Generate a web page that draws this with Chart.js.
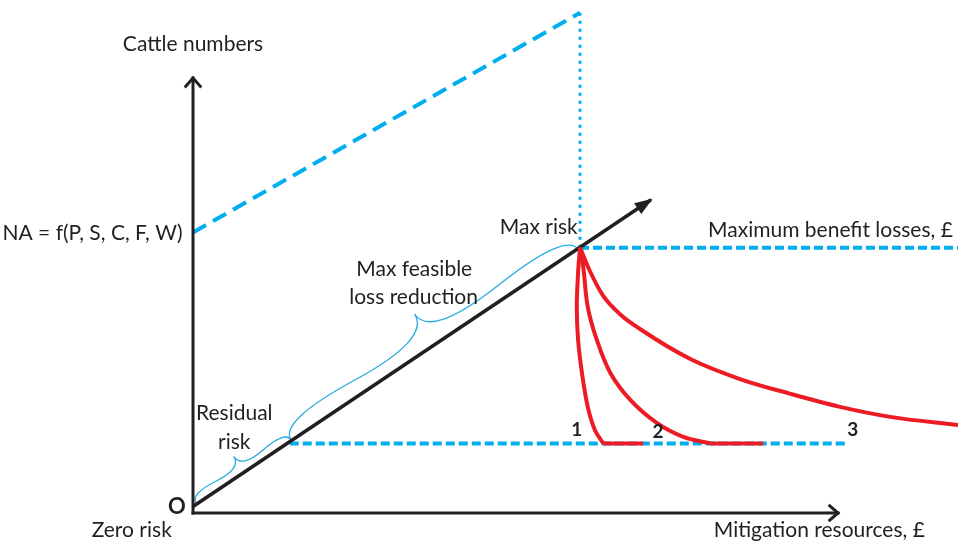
<!DOCTYPE html>
<html><head><meta charset="utf-8">
<script src="https://cdn.jsdelivr.net/npm/chart.js@4/dist/chart.umd.min.js"></script>
<style>html,body{margin:0;padding:0;background:#fff;} #wrap{width:958px;height:542px;position:relative;}</style>
</head><body><div id="wrap"><canvas id="c"></canvas></div>
<script>
// ---- data (diagram units: origin O = (0,0)) ----
const xAxisX = [0, 10], xAxisY = [0, 0];
const yAxisX = [0, 0], yAxisY = [0, 10];
const riskLineX = [0, 7.1], riskLineY = [0.15, 7.2];
const cattleLineX = [0, 6], cattleLineY = [6.45, 11.5];
const maxRiskPoint = [6, 6.1];
const residualPoint = [1.5, 1.6];
const maxBenefitEndX = 11.9;
const residualEndX = 10.16;
const curve1X = [6.0, 5.97, 5.95, 5.97, 6.03, 6.12, 6.23, 6.36];
const curve1Y = [6.1, 5.52, 4.74, 3.98, 3.22, 2.44, 1.91, 1.6];
const curve1FlatEndX = 6.98;
const curve2X = [6.0, 6.05, 6.12, 6.26, 6.47, 6.78, 7.19, 7.60, 8.02];
const curve2Y = [6.1, 5.66, 4.74, 3.98, 3.22, 2.60, 2.07, 1.75, 1.6];
const curve2FlatEndX = 8.84;
const curve3X = [6.0, 6.16, 6.36, 6.62, 6.93, 7.71, 8.48, 9.26, 10.03, 10.81, 11.86];
const curve3Y = [6.1, 5.54, 4.99, 4.57, 4.23, 3.54, 3.08, 2.74, 2.44, 2.21, 2.02];
const braceResidual = [[0.05, 0.23], [1.52, 1.68]];
const braceFeasible = [[1.52, 1.68], [5.98, 6.05]];
const annotations = [
  {text: 'Cattle numbers', x: 0, y: 10.78, align: 'center'},
  {text: 'NA = f(P, S, C, F, W)', x: -1.558, y: 6.44, align: 'center'},
  {text: 'Max feasible', x: 3.43, y: 5.61, align: 'center'},
  {text: 'loss reduction', x: 3.42, y: 4.97, align: 'center'},
  {text: 'Residual', x: 0.64, y: 2.30, align: 'center'},
  {text: 'risk', x: 0.64, y: 1.63, align: 'center'},
  {text: 'Max risk', x: 5.36, y: 6.57, align: 'center'},
  {text: 'Maximum benefit losses, \u00a3', x: 11.78, y: 6.51, align: 'right'},
  {text: '1', x: 5.95, y: 1.91, align: 'center', bold: true},
  {text: '2', x: 7.21, y: 1.86, align: 'center', bold: true},
  {text: '3', x: 10.23, y: 1.91, align: 'center', bold: true},
  {text: 'O', x: -0.25, y: 0.14, align: 'center', bold: true, big: true},
  {text: 'Zero risk', x: -0.95, y: -0.39, align: 'center'},
  {text: 'Mitigation resources, \u00a3', x: 9.71, y: -0.39, align: 'center'}
];

// ---- helpers ----
const pts = (xs, ys) => xs.map((x, i) => ({x, y: ys[i]}));
const BLACK = '#231f20', BLUE = '#00aeef', RED = '#ed1c24', BRACE = '#29abe2';
const FONT = 'Lato, "Open Sans", sans-serif';

const base = {showLine: true, pointRadius: 0, fill: false, clip: false, tension: 0};
const datasets = [
  {...base, data: pts(curve1X, curve1Y), borderColor: RED, borderWidth: 4, tension: 0.35},
  {...base, data: pts([curve1X[curve1X.length-1], curve1FlatEndX], [residualPoint[1], residualPoint[1]]), borderColor: RED, borderWidth: 4},
  {...base, data: pts(curve2X, curve2Y), borderColor: RED, borderWidth: 4, tension: 0.35},
  {...base, data: pts([curve2X[curve2X.length-1], curve2FlatEndX], [residualPoint[1], residualPoint[1]]), borderColor: RED, borderWidth: 4},
  {...base, data: pts(curve3X, curve3Y), borderColor: RED, borderWidth: 4, cubicInterpolationMode: 'monotone'},
  {...base, data: pts(riskLineX, riskLineY), borderColor: BLACK, borderWidth: 3.5, arrow: 'filled'},
  {...base, data: pts(xAxisX, xAxisY), borderColor: BLACK, borderWidth: 3, arrow: 'open', borderCapStyle: 'square'},
  {...base, data: pts(yAxisX, yAxisY), borderColor: BLACK, borderWidth: 3, arrow: 'open', borderCapStyle: 'square'},
  {...base, data: pts(cattleLineX, cattleLineY), borderColor: BLUE, borderWidth: 4, borderDash: [15, 8]},
  {...base, data: pts([cattleLineX[1], maxRiskPoint[0]], [cattleLineY[1], maxRiskPoint[1]]), borderColor: BLUE, borderWidth: 3, borderDash: [3, 5]},
  {...base, data: pts([maxRiskPoint[0], maxBenefitEndX], [maxRiskPoint[1], maxRiskPoint[1]]), borderColor: BLUE, borderWidth: 4, borderDash: [9, 4]},
  {...base, data: pts([residualPoint[0], residualEndX], [residualPoint[1], residualPoint[1]]), borderColor: BLUE, borderWidth: 4, borderDash: [9, 4]}
];

function drawBrace(ctx, x1, y1, x2, y2, w) {
  const len = Math.hypot(x2 - x1, y2 - y1);
  const ux = (x2 - x1) / len, uy = (y2 - y1) / len;
  let nx = uy, ny = -ux;
  if (ny > 0) { nx = -nx; ny = -ny; }
  const q = 0.6;
  const P = (s, o) => [x1 + ux * s * len + nx * o, y1 + uy * s * len + ny * o];
  const c1 = P(0, q * w), m1 = P(0.25, (1 - q) * w), tip = P(0.5, w);
  const c3 = P(1, q * w), m2 = P(0.75, (1 - q) * w);
  ctx.beginPath();
  ctx.moveTo(x1, y1);
  ctx.quadraticCurveTo(c1[0], c1[1], m1[0], m1[1]);
  ctx.quadraticCurveTo(2 * m1[0] - c1[0], 2 * m1[1] - c1[1], tip[0], tip[1]);
  ctx.moveTo(x2, y2);
  ctx.quadraticCurveTo(c3[0], c3[1], m2[0], m2[1]);
  ctx.quadraticCurveTo(2 * m2[0] - c3[0], 2 * m2[1] - c3[1], tip[0], tip[1]);
  ctx.stroke();
}

const diagramPlugin = {
  id: 'diagram',
  beforeDatasetsDraw(chart) {
    const {ctx, scales: {x, y}} = chart;
    ctx.save();
    ctx.strokeStyle = BRACE; ctx.lineWidth = 1.3;
    [[braceResidual, 18], [braceFeasible, 37]].forEach(([b, w]) => {
      drawBrace(ctx, x.getPixelForValue(b[0][0]), y.getPixelForValue(b[0][1]),
                     x.getPixelForValue(b[1][0]), y.getPixelForValue(b[1][1]), w);
    });
    ctx.restore();
  },
  afterDatasetsDraw(chart) {
    const {ctx, scales: {x, y}} = chart;
    ctx.save();
    chart.data.datasets.forEach(ds => {
      if (!ds.arrow) return;
      const n = ds.data.length;
      const a = ds.data[n - 2], b = ds.data[n - 1];
      const ax = x.getPixelForValue(a.x), ay = y.getPixelForValue(a.y);
      const bx = x.getPixelForValue(b.x), by = y.getPixelForValue(b.y);
      const ang = Math.atan2(by - ay, bx - ax);
      ctx.strokeStyle = ds.borderColor; ctx.fillStyle = ds.borderColor;
      if (ds.arrow === 'open') {
        const L = 11, s = 0.72;
        ctx.lineWidth = 3; ctx.lineCap = 'square'; ctx.lineJoin = 'miter';
        ctx.beginPath();
        ctx.moveTo(bx - L * Math.cos(ang - s), by - L * Math.sin(ang - s));
        ctx.lineTo(bx, by);
        ctx.lineTo(bx - L * Math.cos(ang + s), by - L * Math.sin(ang + s));
        ctx.stroke();
      } else {
        const L = 16, hw = 6.5;
        const cx = bx - L * Math.cos(ang), cy = by - L * Math.sin(ang);
        ctx.beginPath();
        ctx.moveTo(bx + 2 * Math.cos(ang), by + 2 * Math.sin(ang));
        ctx.lineTo(cx - hw * Math.sin(ang), cy + hw * Math.cos(ang));
        ctx.lineTo(cx + hw * Math.sin(ang), cy - hw * Math.cos(ang));
        ctx.closePath(); ctx.fill();
      }
    });
    ctx.restore();
  },
  afterDraw(chart) {
    const {ctx, scales: {x, y}} = chart;
    ctx.save();
    ctx.fillStyle = BLACK; ctx.textBaseline = 'middle';
    annotations.forEach(a => {
      ctx.font = a.bold ? (a.big ? 'bold 22px ' : 'bold 19px ') + FONT : '21px ' + FONT;
      ctx.textAlign = a.align;
      ctx.fillText(a.text, x.getPixelForValue(a.x), y.getPixelForValue(a.y));
    });
    ctx.restore();
  }
};

new Chart(document.getElementById('c'), {
  type: 'scatter',
  data: {datasets},
  options: {
    responsive: true, maintainAspectRatio: false, animation: false,
    layout: {padding: 0},
    plugins: {legend: {display: false}, tooltip: {enabled: false}, title: {display: false}},
    scales: {
      x: {type: 'linear', min: -2.9922, max: 11.860, display: false},
      y: {type: 'linear', min: -0.6667, max: 11.793, display: false}
    }
  },
  plugins: [diagramPlugin]
});
</script></body></html>
